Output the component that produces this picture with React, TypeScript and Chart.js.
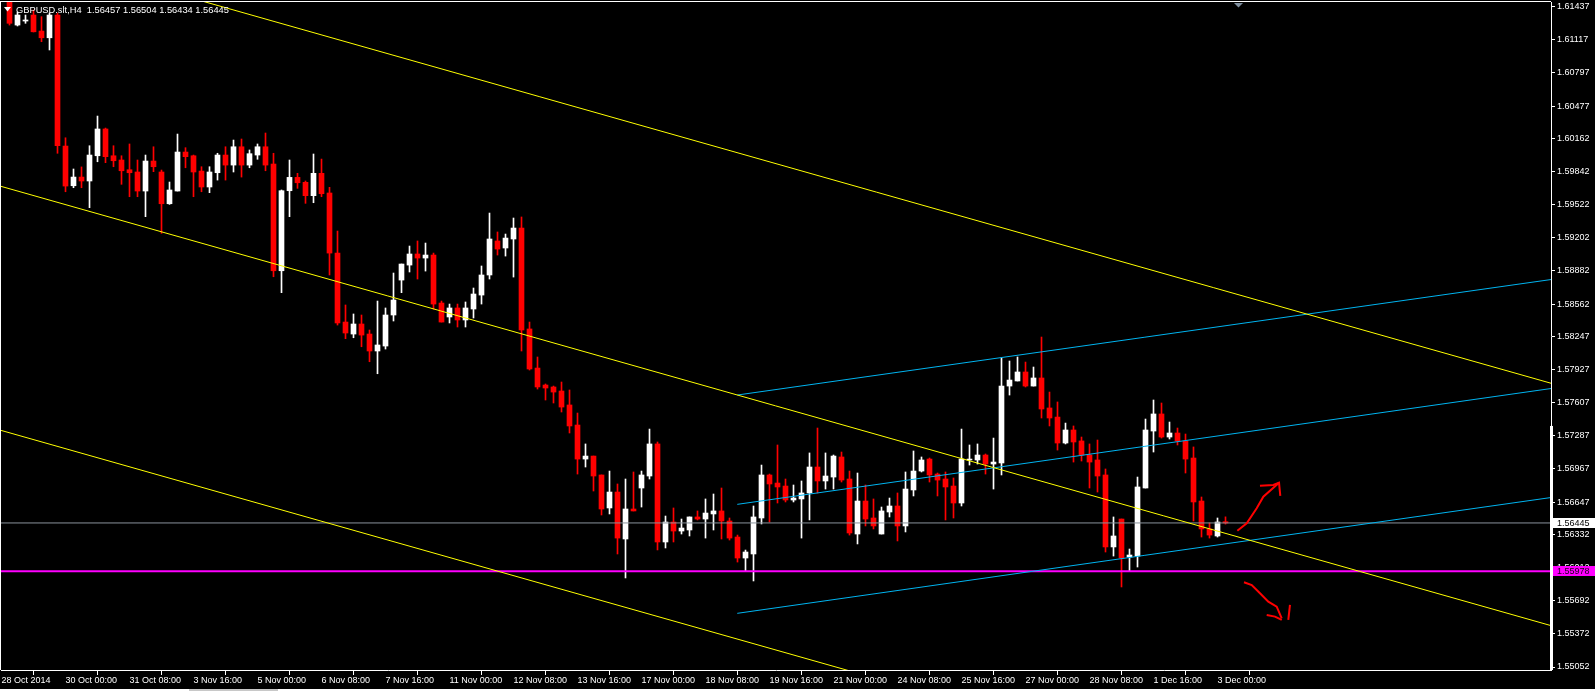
import React, { useEffect, useRef } from 'react';
import { Chart, registerables } from 'chart.js';

Chart.register(...registerables);

const SYMBOL = 'GBPUSD.slt';
const TIMEFRAME = 'H4';

// H4 candles, bar index 0 = 28 Oct 2014 16:00
const opens = [
  1.6160, 1.6158, 1.61260, 1.61299, 1.61357, 1.61202, 1.61137, 1.61357, 1.60090, 1.59706,
  1.59790, 1.59752, 1.59996, 1.60255, 1.59996, 1.59955, 1.59861, 1.59839, 1.59655, 1.59945,
  1.59839, 1.59532, 1.59655, 1.60032, 1.59996, 1.59848, 1.59694, 1.59832, 1.60003, 1.59906,
  1.60083, 1.59906, 1.60003, 1.60083, 1.59916, 1.58884, 1.59658, 1.59787, 1.59739, 1.59610,
  1.59826, 1.59636, 1.59055, 1.58388, 1.58272, 1.58369, 1.58272, 1.58108, 1.58156, 1.58456,
  1.58794, 1.58939, 1.59046, 1.59007, 1.59036, 1.58572, 1.58437, 1.58524, 1.58408, 1.58514,
  1.58649, 1.58843, 1.59172, 1.59104, 1.59191, 1.59297, 1.58321, 1.57943, 1.57779, 1.57760,
  1.57721, 1.57586, 1.57392, 1.57063, 1.57092, 1.56909, 1.56590, 1.56744, 1.56290, 1.56580,
  1.56783, 1.56899, 1.57209, 1.56261, 1.56454, 1.56367, 1.56377, 1.56503, 1.56483, 1.56532,
  1.56561, 1.56464, 1.56309, 1.56106, 1.56145, 1.56493, 1.56909, 1.56831, 1.56802, 1.56667,
  1.56677, 1.56735, 1.56986, 1.56851, 1.56889, 1.57083, 1.56870, 1.56338, 1.56657, 1.56493,
  1.56338, 1.56551, 1.56609, 1.56416, 1.56764, 1.56947, 1.57063, 1.56918, 1.56870, 1.56802,
  1.56638, 1.57054, 1.57054, 1.57102, 1.57015, 1.57025, 1.57769, 1.57818, 1.57905, 1.57769,
  1.57847, 1.57557, 1.57469, 1.57218, 1.57344, 1.57238, 1.57102, 1.57054, 1.56909, 1.56213,
  1.56483, 1.56116, 1.56125, 1.56783, 1.57334, 1.57499, 1.57276, 1.57315, 1.57238, 1.57073,
  1.56657, 1.56387, 1.56319, 1.56457,
];
const highs = [
  1.6166, 1.6162, 1.61386, 1.61357, 1.61405, 1.61341, 1.61376, 1.61376, 1.60170, 1.59868,
  1.59888, 1.60093, 1.60380, 1.60264, 1.60093, 1.59996, 1.60110, 1.59955, 1.60003, 1.60083,
  1.59858, 1.59742, 1.60206, 1.60074, 1.60003, 1.59890, 1.59890, 1.60020, 1.60083, 1.60148,
  1.60158, 1.60052, 1.60110, 1.60216, 1.60020, 1.59665, 1.59955, 1.59826, 1.59752, 1.60013,
  1.59964, 1.59691, 1.59268, 1.58553, 1.58466, 1.58456, 1.58311, 1.58591, 1.58524, 1.58862,
  1.58949, 1.59123, 1.59172, 1.59152, 1.59055, 1.58591, 1.58562, 1.58562, 1.58582, 1.58717,
  1.58930, 1.59442, 1.59259, 1.59239, 1.59394, 1.59404, 1.58388, 1.58050, 1.57789, 1.57769,
  1.57808, 1.57731, 1.57508, 1.57209, 1.57092, 1.56909, 1.56947, 1.56822, 1.56870, 1.56938,
  1.56947, 1.57353, 1.57228, 1.56512, 1.56590, 1.56483, 1.56503, 1.56561, 1.56677, 1.56725,
  1.56783, 1.56493, 1.56328, 1.56183, 1.56609, 1.57005, 1.56918, 1.57199, 1.56870, 1.56812,
  1.56851, 1.57122, 1.57363, 1.57122, 1.57102, 1.57131, 1.56947, 1.56928, 1.56812, 1.56677,
  1.56599, 1.56686, 1.56735, 1.56938, 1.57141, 1.57083, 1.57073, 1.56928, 1.56938, 1.56880,
  1.57353, 1.57199, 1.57209, 1.57112, 1.57266, 1.58040, 1.58011, 1.58050, 1.58001, 1.57953,
  1.58243, 1.57711, 1.57615, 1.57411, 1.57383, 1.57276, 1.57209, 1.57247, 1.56967, 1.56503,
  1.56483, 1.56193, 1.56889, 1.57450, 1.57634, 1.57605, 1.57421, 1.57363, 1.57305, 1.57180,
  1.56696, 1.56445, 1.56493, 1.56504,
];
const lows = [
  1.6150, 1.61260, 1.61251, 1.61277, 1.61193, 1.61099, 1.61019, 1.60020, 1.59648, 1.59687,
  1.59687, 1.59494, 1.59938, 1.59929, 1.59890, 1.59720, 1.59600, 1.59600, 1.59407, 1.59842,
  1.59246, 1.59526, 1.59655, 1.59880, 1.59600, 1.59648, 1.59639, 1.59761, 1.59761, 1.59839,
  1.59790, 1.59880, 1.59962, 1.59851, 1.58826, 1.58672, 1.59407, 1.59681, 1.59536, 1.59542,
  1.59600, 1.58843, 1.58359, 1.58227, 1.58236, 1.58149, 1.58004, 1.57888, 1.58127, 1.58398,
  1.58672, 1.58872, 1.58804, 1.58881, 1.58514, 1.58388, 1.58379, 1.58340, 1.58340, 1.58427,
  1.58562, 1.58804, 1.59036, 1.59026, 1.58823, 1.58108, 1.57924, 1.57740, 1.57634, 1.57605,
  1.57518, 1.57315, 1.56918, 1.56986, 1.56754, 1.56522, 1.56532, 1.56145, 1.55913, 1.56561,
  1.56599, 1.56870, 1.56184, 1.56203, 1.56261, 1.56338, 1.56319, 1.56474, 1.56299, 1.56377,
  1.56290, 1.56280, 1.56067, 1.55980, 1.55884, 1.56435, 1.56454, 1.56638, 1.56648, 1.56648,
  1.56299, 1.56474, 1.56735, 1.56773, 1.56773, 1.56841, 1.56328, 1.56242, 1.56416, 1.56387,
  1.56338, 1.56503, 1.56271, 1.56358, 1.56706, 1.56938, 1.56841, 1.56706, 1.56474, 1.56493,
  1.56609, 1.57005, 1.57015, 1.56918, 1.56773, 1.56909, 1.57682, 1.57818, 1.57760, 1.57769,
  1.57460, 1.57383, 1.57150, 1.57209, 1.57034, 1.57044, 1.56783, 1.56744, 1.56164, 1.56125,
  1.55826, 1.55980, 1.56019, 1.56783, 1.57131, 1.57266, 1.57257, 1.57199, 1.56928, 1.56464,
  1.56309, 1.56299, 1.56309, 1.56434,
];
const closes = [
  1.6153, 1.61277, 1.61357, 1.61309, 1.61195, 1.61137, 1.61357, 1.60093, 1.59703, 1.59790,
  1.59752, 1.60003, 1.60255, 1.59987, 1.59948, 1.59851, 1.59832, 1.59655, 1.59945, 1.59890,
  1.59532, 1.59665, 1.60032, 1.59987, 1.59839, 1.59694, 1.59839, 1.60003, 1.59906, 1.60083,
  1.59906, 1.60016, 1.60083, 1.59906, 1.58884, 1.59658, 1.59787, 1.59735, 1.59610, 1.59826,
  1.59629, 1.59055, 1.58379, 1.58282, 1.58369, 1.58262, 1.58108, 1.58166, 1.58456, 1.58601,
  1.58949, 1.59046, 1.59007, 1.59036, 1.58562, 1.58388, 1.58524, 1.58408, 1.58524, 1.58659,
  1.58843, 1.59191, 1.59094, 1.59200, 1.59297, 1.58311, 1.57934, 1.57760, 1.57750, 1.57711,
  1.57566, 1.57383, 1.57063, 1.57092, 1.56899, 1.56580, 1.56744, 1.56299, 1.56580, 1.56561,
  1.56909, 1.57209, 1.56261, 1.56454, 1.56367, 1.56396, 1.56503, 1.56483, 1.56541, 1.56561,
  1.56464, 1.56299, 1.56106, 1.56164, 1.56503, 1.56909, 1.56822, 1.56793, 1.56667, 1.56686,
  1.56735, 1.56986, 1.56851, 1.56899, 1.57092, 1.56860, 1.56348, 1.56657, 1.56483, 1.56416,
  1.56561, 1.56609, 1.56416, 1.56773, 1.56947, 1.57054, 1.56909, 1.56860, 1.56793, 1.56638,
  1.57063, 1.57063, 1.57102, 1.57015, 1.57034, 1.57769, 1.57827, 1.57905, 1.57769, 1.57847,
  1.57547, 1.57460, 1.57218, 1.57344, 1.57228, 1.57102, 1.57034, 1.56899, 1.56213, 1.56319,
  1.56106, 1.56135, 1.56793, 1.57344, 1.57499, 1.57276, 1.57315, 1.57238, 1.57063, 1.56648,
  1.56387, 1.56328, 1.56454, 1.56445,
];

// Time axis: bar index of each label, and its text
const xTickBars = [0, 8, 16, 24, 32, 40, 48, 56, 64, 72, 80, 88, 96, 104, 112, 120, 128, 136, 144, 152];
const xTickLabels = [
  '28 Oct 2014', '30 Oct 00:00', '31 Oct 08:00', '3 Nov 16:00', '5 Nov 00:00', '6 Nov 08:00',
  '7 Nov 16:00', '11 Nov 00:00', '12 Nov 08:00', '13 Nov 16:00', '17 Nov 00:00', '18 Nov 08:00',
  '19 Nov 16:00', '21 Nov 00:00', '24 Nov 08:00', '25 Nov 16:00', '27 Nov 00:00', '28 Nov 08:00',
  '1 Dec 16:00', '3 Dec 00:00',
];
// Price axis labels
const yTickValues = [
  1.61437, 1.61117, 1.60797, 1.60477, 1.60162, 1.59842, 1.59522, 1.59202, 1.58882, 1.58562,
  1.58247, 1.57927, 1.57607, 1.57287, 1.56967, 1.56647, 1.56332, 1.56012, 1.55692, 1.55372, 1.55052,
];

// Drawn objects: [bar index, price]
const yellowUpper = [[-0.1875, 1.62046], [193.69, 1.57796]];
const yellowMiddle = [[-0.1875, 1.59703], [193.69, 1.55452]];
const yellowLower = [[-0.1875, 1.57343], [193.69, 1.53092]];
const blueUpper = [[91.97, 1.57682], [193.69, 1.58799]];
const blueMiddle = [[91.97, 1.56625], [193.69, 1.57745]];
const blueLower = [[91.97, 1.55571], [193.69, 1.56691]];
const magentaLevel = 1.55978;
const arrowUp = [[154.48, 1.5637], [155.65, 1.56442], [156.9, 1.56587], [157.73, 1.56699], [159.69, 1.56834]];
const arrowUpHead = [[157.31, 1.56805], [158.98, 1.56812], [159.69, 1.56834], [159.85, 1.56706]];
const arrowDown = [[155.31, 1.55871], [156.28, 1.55845], [157.31, 1.55765], [158.35, 1.55684], [159.4, 1.55635], [160.03, 1.55523]];
const arrowDownHeadL = [[158.15, 1.55555], [159.19, 1.55539], [160.03, 1.55507]];
const arrowDownHeadR = [[161.06, 1.55652], [160.85, 1.55507]];
const axisMarkTop = 1.57383;
const shiftMarkBar = 154.625;

const X_MIN = -0.0625;
const X_MAX = 193.6875;
const Y_MIN = 1.55023;
const Y_MAX = 1.61483;
const FONT = 'Liberation Sans';

export default function App() {
  const ref = useRef<HTMLCanvasElement>(null);

  useEffect(() => {
    const canvas = ref.current;
    if (!canvas) return;
    const last = closes.length - 1;
    const lastClose = closes[last];
    const colors = closes.map((c, i) => (c >= opens[i] ? '#ffffff' : '#ff0000'));
    const minBody = 0.00005;
    const bodyData = opens.map((o, i) => {
      let lo = Math.min(o, closes[i]);
      let hi = Math.max(o, closes[i]);
      if (hi - lo < minBody) {
        const m = (hi + lo) / 2;
        lo = m - minBody / 2;
        hi = m + minBody / 2;
      }
      return { x: i, y: [lo, hi] };
    });
    const wickData = lows.map((l, i) => ({ x: i, y: [l, highs[i]] }));
    const pts = (arr: number[][]) => arr.map(([x, y]) => ({ x, y }));
    const line = (arr: number[][], color: string, width = 1, order = 1) => ({
      type: 'line' as const,
      data: pts(arr),
      borderColor: color,
      backgroundColor: color,
      borderWidth: width,
      pointRadius: 0,
      tension: 0,
      fill: false,
      order,
    });

    const title = `${SYMBOL},${TIMEFRAME}  ${opens[last].toFixed(5)} ${highs[last].toFixed(5)} ${lows[last].toFixed(5)} ${lastClose.toFixed(5)}`;

    const overlay = {
      id: 'mt4Overlay',
      beforeDraw(chart: any) {
        const { ctx, width, height } = chart;
        ctx.save();
        ctx.fillStyle = '#000';
        ctx.fillRect(0, 0, width, height);
        ctx.restore();
      },
      afterDraw(chart: any) {
        const { ctx, chartArea: a, width } = chart;
        const ys = chart.scales.y;
        const xs = chart.scales.x;
        ctx.save();
        ctx.fillStyle = '#ffffff';
        ctx.fillRect(0, a.top - 1, a.right, 1);
        ctx.fillRect(0, a.top - 1, 1, a.bottom - a.top + 1);
        const ty = ys.getPixelForValue(axisMarkTop);
        ctx.fillRect(a.right - 1, ty, 3, a.bottom - ty);

        ctx.font = `9px "${FONT}"`;
        ctx.textBaseline = 'middle';
        ctx.textAlign = 'left';
        // current price box
        const py = Math.round(ys.getPixelForValue(lastClose));
        ctx.fillStyle = '#ffffff';
        ctx.fillRect(a.right + 2, py - 5, width - a.right - 2, 10);
        ctx.fillStyle = '#000000';
        ctx.fillText(lastClose.toFixed(5), a.right + 6, py + 0.5);
        // magenta level box
        const my = Math.round(ys.getPixelForValue(magentaLevel));
        ctx.fillStyle = '#ff00ff';
        ctx.fillRect(a.right + 2, my - 5, width - a.right - 2, 10);
        ctx.fillStyle = '#1a001a';
        ctx.fillText(magentaLevel.toFixed(5), a.right + 6, my + 0.5);

        // title
        ctx.font = `9.3px "${FONT}"`;
        ctx.fillStyle = '#ffffff';
        ctx.fillText(title, 16, 10);
        ctx.beginPath();
        ctx.moveTo(4, 7);
        ctx.lineTo(11, 7);
        ctx.lineTo(7.5, 11.5);
        ctx.closePath();
        ctx.fill();

        // chart shift marker
        const sx = xs.getPixelForValue(shiftMarkBar);
        ctx.fillStyle = '#8090a0';
        ctx.beginPath();
        ctx.moveTo(sx - 4.5, a.top + 1);
        ctx.lineTo(sx + 4.5, a.top + 1);
        ctx.lineTo(sx, a.top + 5.5);
        ctx.closePath();
        ctx.fill();

        // bottom window edge
        ctx.fillStyle = '#ffffff';
        ctx.fillRect(0, 689, width, 2);
        ctx.fillStyle = '#c8c8c8';
        ctx.fillRect(189, 689, 89, 2);
        ctx.restore();
      },
    };

    const chart = new Chart(canvas, {
      type: 'bar',
      data: {
        datasets: [
          line([[X_MIN - 1, lastClose], [X_MAX + 1, lastClose]], '#8a929c', 1, 3),
          line([[X_MIN - 1, magentaLevel], [X_MAX + 1, magentaLevel]], '#ff00ff', 2, 2),
          line(yellowUpper, '#ffff00'),
          line(yellowMiddle, '#ffff00'),
          line(yellowLower, '#ffff00'),
          line(blueUpper, '#00b4f0'),
          line(blueMiddle, '#00b4f0'),
          line(blueLower, '#00b4f0'),
          line(arrowUp, '#ff0000', 2, 0),
          line(arrowUpHead, '#ff0000', 2, 0),
          line(arrowDown, '#ff0000', 2, 0),
          line(arrowDownHeadL, '#ff0000', 2, 0),
          line(arrowDownHeadR, '#ff0000', 2, 0),
          {
            type: 'bar' as const,
            data: bodyData as any,
            backgroundColor: colors,
            borderWidth: 0,
            barThickness: 5,
            grouped: false,
            order: 5,
          },
          {
            type: 'bar' as const,
            data: wickData as any,
            backgroundColor: colors,
            borderWidth: 0,
            barThickness: 1,
            grouped: false,
            order: 6,
          },
        ] as any,
      },
      options: {
        responsive: false,
        animation: false,
        devicePixelRatio: 1,
        events: [],
        layout: { padding: { left: 1, top: 2, right: 0, bottom: 0 } },
        plugins: {
          legend: { display: false },
          tooltip: { enabled: false },
          title: { display: false },
        },
        scales: {
          x: {
            type: 'linear',
            min: X_MIN,
            max: X_MAX,
            offset: false,
            bounds: 'data',
            afterBuildTicks: (s: any) => {
              s.ticks = xTickBars.map((v) => ({ value: v }));
            },
            afterFit: (s: any) => {
              s.height = 21;
              s.paddingLeft = 0;
              s.paddingRight = 0;
            },
            ticks: {
              autoSkip: false,
              maxRotation: 0,
              minRotation: 0,
              align: 'start',
              padding: 0,
              color: '#ffffff',
              font: { family: FONT, size: 9 },
              callback: (_v: any, i: number) => xTickLabels[i],
            },
            grid: { drawOnChartArea: false, drawTicks: true, tickLength: 5, color: '#ffffff', lineWidth: 1 },
            border: { display: true, color: '#ffffff', width: 1 },
          },
          y: {
            type: 'linear',
            position: 'right',
            min: Y_MIN,
            max: Y_MAX,
            bounds: 'data',
            afterBuildTicks: (s: any) => {
              s.ticks = yTickValues.map((v) => ({ value: v }));
            },
            afterFit: (s: any) => {
              s.width = 44;
              s.paddingTop = 0;
              s.paddingBottom = 0;
            },
            ticks: {
              autoSkip: false,
              padding: 2,
              color: '#ffffff',
              font: { family: FONT, size: 9 },
              callback: (v: any) => Number(v).toFixed(5),
            },
            grid: { drawOnChartArea: false, drawTicks: true, tickLength: 4, color: '#ffffff', lineWidth: 1 },
            border: { display: true, color: '#ffffff', width: 1 },
          },
        },
      } as any,
      plugins: [overlay],
    });
    return () => chart.destroy();
  }, []);

  return (
    <div style={{ position: 'fixed', left: 0, top: 0, width: 1595, height: 691, background: '#000' }}>
      <canvas ref={ref} width={1595} height={691} style={{ display: 'block' }} />
    </div>
  );
}
